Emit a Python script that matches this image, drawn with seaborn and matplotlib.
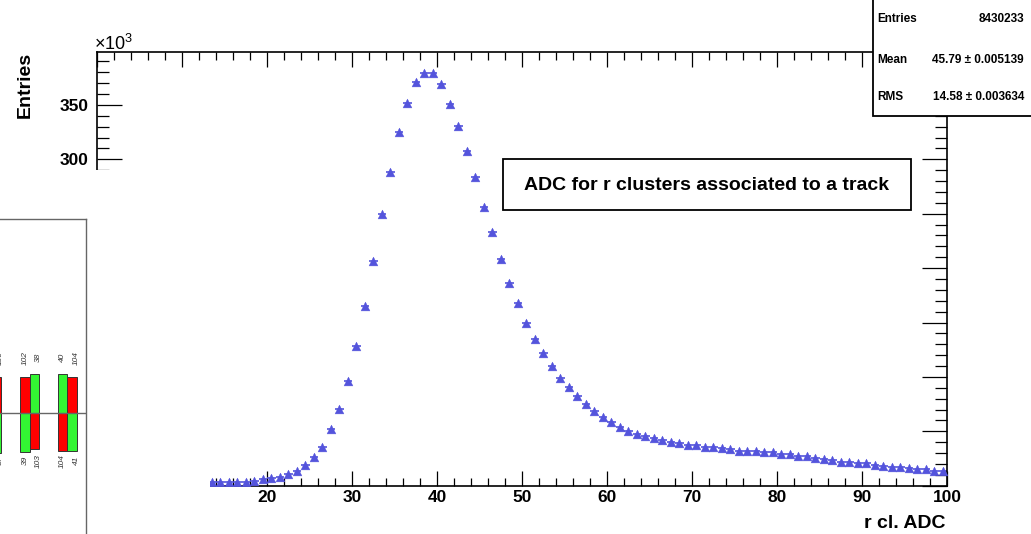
import numpy as np
import matplotlib
matplotlib.use('Agg')
import matplotlib.pyplot as plt
from matplotlib.patches import Rectangle
import seaborn as sns

# r cluster ADC histogram, counts in units of 10^3 (bin width 1, bins 13..100)
bin_lo = np.arange(13, 100)
counts_k = [3.0, 3.1, 3.2, 3.4, 3.6, 4.2, 5.9, 6.8, 8.3, 10.5,
            13.8, 19.0, 26.7, 35.4, 52.3, 70.4, 96.5, 128.8, 165.0, 206.5,
            250.0, 288.0, 324.8, 351.5, 370.9, 379.4, 379.4, 369.3, 350.9, 330.9,
            307.8, 283.3, 256.6, 233.2, 208.0, 186.5, 168.1, 149.7, 134.9, 122.0,
            110.3, 99.0, 90.3, 82.0, 75.3, 68.8, 63.6, 59.0, 54.4, 50.7,
            47.6, 45.8, 43.7, 42.1, 40.6, 39.1, 37.5, 37.2, 36.0, 35.7,
            34.5, 33.5, 32.3, 32.3, 32.3, 30.8, 30.8, 29.2, 29.2, 27.4,
            27.4, 25.2, 24.3, 23.7, 22.1, 22.1, 20.6, 21.2, 19.1, 18.4,
            16.9, 17.5, 16.0, 15.4, 15.4, 13.8, 13.8]
x_ticks = [0, 10, 20, 30, 40, 50, 60, 70, 80, 90, 100]
y_ticks = [0, 50, 100, 150, 200, 250, 300, 350]

stat_names = ['Entries', 'Mean', 'RMS']
stat_values = ['8430233', '45.79 \u00b1 0.005139', '14.58 \u00b1 0.003634']
title_txt = 'ADC for r clusters associated to a track'

# strip panel of the window behind (partly visible)
strip_pair = [0, 1, 1, 2, 2]
strip_side = [1, -1, 1, -1, 1]
strip_top = [35.5, 35.7, 38.7, 38.7, 35.7]
strip_bot = [40.0, 39.0, 36.5, 38.3, 38.5]
strip_top_col = ['red', 'red', 'green', 'green', 'red']
strip_bot_col = ['green', 'green', 'red', 'red', 'green']
strip_top_lab = ['100', '102', '38', '40', '104']
strip_bot_lab = ['37', '39', '103', '104', '41']

W, H = 1031, 534
sns.set_style('white')
plt.rcParams['font.family'] = ['Liberation Sans', 'DejaVu Sans']
plt.rcParams['mathtext.default'] = 'regular'
for k in ['text.color', 'xtick.color', 'ytick.color', 'axes.labelcolor']:
    plt.rcParams[k] = 'black'

fig = plt.figure(figsize=(W / 100, H / 100), dpi=100)


def fx(px):
    return px / W


def fy(py):
    return 1 - py / H


ax = fig.add_axes([fx(97), fy(485.7), fx(850), 433.4 / H])
df = {'adc': bin_lo + 0.5, 'n': counts_k}
mcol = '#5454dc'
ax.errorbar(df['adc'], df['n'], xerr=0.5, fmt='none', ecolor=mcol, elinewidth=1.2)
sns.scatterplot(x='adc', y='n', data=df, marker='^', s=40, color=mcol,
                edgecolor=mcol, linewidth=0.3, ax=ax, zorder=3)
ax.set_xlim(0, 100)
ax.set_ylim(0, max(counts_k) * 1.05)
ax.set_xticks(x_ticks)
ax.set_xticks(np.arange(0, 101, 2), minor=True)
ax.set_yticks(y_ticks)
ax.set_yticks(np.arange(0, 400, 10), minor=True)
ax.set_xticklabels([str(v) for v in x_ticks], fontsize=12.5, fontweight='bold')
ax.set_yticklabels([str(v) for v in y_ticks], fontsize=12.5, fontweight='bold')
ax.tick_params(axis='x', which='major', direction='in', length=11, width=0.9,
               top=True, bottom=True, pad=3)
ax.tick_params(axis='x', which='minor', direction='in', length=6, width=0.9,
               top=True, bottom=True)
ax.tick_params(axis='y', which='major', direction='in', length=18, width=0.9,
               left=True, right=True, pad=6)
ax.tick_params(axis='y', which='minor', direction='in', length=8.5, width=0.9,
               left=True, right=True)
for s in ax.spines.values():
    s.set_linewidth(1.2)
    s.set_color('black')
ax.set_xlabel('')
ax.set_ylabel('')

fig.text(fx(94), fy(50), '\u00d710$^{3}$', fontsize=13, ha='left', va='baseline')
fig.text(fx(25.5), fy(85), 'Entries', fontsize=14, fontweight='bold',
         rotation=90, ha='center', va='center')
fig.text(fx(945), fy(528), 'r cl. ADC', fontsize=14, fontweight='bold',
         ha='right', va='baseline')

# title box
fig.add_artist(Rectangle((fx(503), fy(210)), fx(408), 51 / H, transform=fig.transFigure,
                         facecolor='white', edgecolor='black', lw=1.3, zorder=2))
fig.text(fx(706), fy(186), title_txt, fontsize=14, fontweight='bold',
         ha='center', va='center', zorder=3)

# stats box
fig.add_artist(Rectangle((fx(873), fy(116)), fx(170), 117 / H, transform=fig.transFigure,
                         facecolor='white', edgecolor='black', lw=1.3, zorder=4))
for name, val, py in zip(stat_names, stat_values, [19, 60, 97]):
    fig.text(fx(877), fy(py), name, fontsize=8.5, fontweight='bold',
             ha='left', va='center', zorder=5)
    fig.text(fx(1024), fy(py), val, fontsize=8.5, fontweight='bold',
             ha='right', va='center', zorder=5)

# window in front covering the lower left
fig.add_artist(Rectangle((0, 0), fx(209.5), fy(170), transform=fig.transFigure,
                         facecolor='white', edgecolor='none', zorder=6))

ins = fig.add_axes([0, 0, fx(86), 1 - 219 / H])
ins.set_zorder(7)
ins.set_facecolor('white')
bx = np.array(strip_pair) + 0.125 * np.array(strip_side)
colmap = {'red': '#ff0000', 'green': '#33f533'}
ins.bar(bx, strip_top, width=0.25, color=[colmap[c] for c in strip_top_col],
        edgecolor='#333333', linewidth=0.7)
ins.bar(bx, [-v for v in strip_bot], width=0.25, color=[colmap[c] for c in strip_bot_col],
        edgecolor='#333333', linewidth=0.7)
ins.axhline(0, color='#666666', lw=1)
for xx, sd, lt, lb in zip(bx, strip_side, strip_top_lab, strip_bot_lab):
    off = 0.1 if sd > 0 else 0.0
    ins.text(xx + off, 55, lt, rotation=90, fontsize=6, style='italic',
             color='#333333', ha='center', va='center')
    ins.text(xx + off, -48, lb, rotation=90, fontsize=6, style='italic',
             color='#333333', ha='center', va='center')
ins.set_xlim(0.22, 2.488)
ins.set_ylim(412.7 - 534, 412.7 - 219)
ins.set_xticks([])
ins.set_yticks([])
for k in ['left', 'bottom']:
    ins.spines[k].set_visible(False)
for k in ['top', 'right']:
    ins.spines[k].set_color('#666666')
    ins.spines[k].set_linewidth(1)

fig.savefig('out.png', dpi=100)
